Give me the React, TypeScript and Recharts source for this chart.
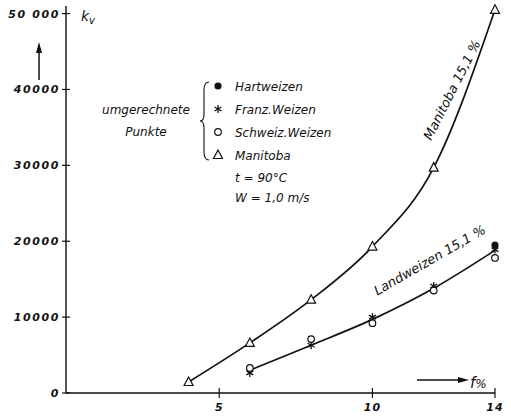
import React from "react";
import { ComposedChart, Line, XAxis, YAxis } from "recharts";

// moisture f in %, k_v values per series
const fValues = [4, 6, 8, 10, 12, 14];
const manitoba = [1450, 6600, 12300, 19300, 29700, 50500];
const landweizen = [null, 3000, 6300, 9700, 13800, 18800];
const franzWeizen = [null, 2650, 6300, 10000, 14100, 18900];
const schweizWeizen = [null, 3300, 7100, 9200, 13500, 17800];
const hartweizen = [null, null, null, null, null, 19500];

const xTicks = [5, 10, 14];
const yTicks = [0, 10000, 20000, 30000, 40000, 50000];
const yTickLabels = ["0", "10000", "20000", "30000", "40000", "50 000"];

const rows = fValues.map((f, i) => ({
  f,
  manitoba: manitoba[i],
  landweizen: landweizen[i],
  franz: franzWeizen[i],
  schweiz: schweizWeizen[i],
  hart: hartweizen[i],
}));

const INK = "#111";
const FONT = "DejaVu Sans";

function TriangleMark({ cx, cy }: any) {
  if (cx == null || cy == null) return <g />;
  return (
    <polygon
      points={`${cx},${cy - 5} ${cx - 4.5},${cy + 3.5} ${cx + 4.5},${cy + 3.5}`}
      fill="#fff"
      stroke={INK}
      strokeWidth={1.2}
    />
  );
}

function RingMark({ cx, cy }: any) {
  if (cx == null || cy == null) return <g />;
  return <circle cx={cx} cy={cy} r={3.3} fill="#fff" stroke={INK} strokeWidth={1.2} />;
}

function DotMark({ cx, cy }: any) {
  if (cx == null || cy == null) return <g />;
  return <circle cx={cx} cy={cy} r={3.6} fill={INK} />;
}

function StarMark({ cx, cy }: any) {
  if (cx == null || cy == null) return <g />;
  const r = 4;
  return (
    <g stroke={INK} strokeWidth={1.3}>
      <line x1={cx} y1={cy - r} x2={cx} y2={cy + r} />
      <line x1={cx - r * 0.87} y1={cy - r / 2} x2={cx + r * 0.87} y2={cy + r / 2} />
      <line x1={cx - r * 0.87} y1={cy + r / 2} x2={cx + r * 0.87} y2={cy - r / 2} />
    </g>
  );
}

function YTick({ x, y, payload, index }: any) {
  return (
    <g>
      <line x1={x - 4} y1={y} x2={x + 4} y2={y} stroke={INK} strokeWidth={1.2} />
      <text
        x={x - 6}
        y={y + 4}
        textAnchor="end"
        fontSize={11}
        fontStyle="italic"
        fontWeight="bold"
        letterSpacing={1.6}
        fill={INK}
        fontFamily={FONT}
      >
        {yTickLabels[index] ?? payload.value}
      </text>
    </g>
  );
}

function XTick({ x, y, payload }: any) {
  return (
    <g>
      <line x1={x} y1={y - 5} x2={x} y2={y + 5} stroke={INK} strokeWidth={1.2} />
      <text
        x={x}
        y={y + 18}
        textAnchor="middle"
        fontSize={11}
        fontStyle="italic"
        fontWeight="bold"
        letterSpacing={1}
        fill={INK}
        fontFamily={FONT}
      >
        {payload.value}
      </text>
    </g>
  );
}

const legendItems = [
  { label: "Hartweizen", Mark: DotMark, y: 86 },
  { label: "Franz.Weizen", Mark: StarMark, y: 109 },
  { label: "Schweiz.Weizen", Mark: RingMark, y: 132 },
  { label: "Manitoba", Mark: TriangleMark, y: 155 },
];

function Annotations() {
  const t = { fontFamily: FONT, fontStyle: "italic" as const, fill: INK };
  return (
    <svg
      width={511}
      height={417}
      style={{ position: "absolute", left: 0, top: 0, pointerEvents: "none" }}
    >
      {/* k_v axis caption and upward arrow */}
      <text x={81} y={21} fontSize={14} {...t}>
        k<tspan dy={3} fontSize={10}>v</tspan>
      </text>
      <line x1={39} y1={80} x2={39} y2={50} stroke={INK} strokeWidth={1.5} />
      <polygon points="39,42 36,53 42,53" fill={INK} />

      {/* f% arrow */}
      <line x1={417} y1={380} x2={460} y2={380} stroke={INK} strokeWidth={1.5} />
      <polygon points="469,380 458,377 458,383" fill={INK} />
      <text x={470} y={388} fontSize={15} {...t}>
        f<tspan fontSize={12}>%</tspan>
      </text>

      {/* legend */}
      <text x={146} y={114} fontSize={12} textAnchor="middle" {...t}>
        umgerechnete
      </text>
      <text x={146} y={136} fontSize={12} textAnchor="middle" {...t}>
        Punkte
      </text>
      <path
        d="M209,82 Q204,82 204,90 L204,114 Q204,121 200,121 Q204,121 204,128 L204,152 Q204,160 209,160"
        fill="none"
        stroke={INK}
        strokeWidth={1.1}
      />
      {legendItems.map(({ label, Mark, y }) => (
        <g key={label}>
          <Mark cx={218} cy={y} />
          <text x={235} y={y + 5} fontSize={12} {...t}>
            {label}
          </text>
        </g>
      ))}
      <text x={235} y={182} fontSize={12} {...t}>
        t = 90°C
      </text>
      <text x={235} y={202} fontSize={12} {...t}>
        W = 1,0 m/s
      </text>

      {/* curve labels */}
      <text
        x={456}
        y={92}
        fontSize={13}
        textAnchor="middle"
        transform="rotate(-63 456 92)"
        {...t}
      >
        Manitoba 15,1 %
      </text>
      <text
        x={432}
        y={264}
        fontSize={13}
        textAnchor="middle"
        transform="rotate(-30 432 264)"
        {...t}
      >
        Landweizen 15,1 %
      </text>
    </svg>
  );
}

export default function App() {
  return (
    <div
      style={{
        position: "absolute",
        left: 0,
        top: 0,
        width: 511,
        height: 417,
        background: "#fff",
        fontFamily: FONT,
      }}
    >
      <ComposedChart
        width={511}
        height={417}
        data={rows}
        margin={{ top: 6, right: 16, left: 0, bottom: 0 }}
      >
        <XAxis
          dataKey="f"
          type="number"
          domain={[0, 14]}
          ticks={xTicks}
          height={24}
          tickSize={0}
          tickMargin={0}
          tickLine={false}
          tick={<XTick />}
          axisLine={{ stroke: INK, strokeWidth: 1.4 }}
          interval={0}
        />
        <YAxis
          type="number"
          domain={[0, 51000]}
          ticks={yTicks}
          width={66}
          tickSize={0}
          tickMargin={0}
          tickLine={false}
          tick={<YTick />}
          axisLine={{ stroke: INK, strokeWidth: 1.4 }}
          interval={0}
        />
        <Line
          dataKey="manitoba"
          type="monotone"
          stroke={INK}
          strokeWidth={1.7}
          dot={<TriangleMark />}
          activeDot={false}
          isAnimationActive={false}
        />
        <Line
          dataKey="landweizen"
          type="monotone"
          stroke={INK}
          strokeWidth={1.7}
          dot={false}
          activeDot={false}
          isAnimationActive={false}
        />
        <Line
          dataKey="franz"
          stroke="none"
          dot={<StarMark />}
          activeDot={false}
          isAnimationActive={false}
        />
        <Line
          dataKey="schweiz"
          stroke="none"
          dot={<RingMark />}
          activeDot={false}
          isAnimationActive={false}
        />
        <Line
          dataKey="hart"
          stroke="none"
          dot={<DotMark />}
          activeDot={false}
          isAnimationActive={false}
        />
      </ComposedChart>
      <Annotations />
    </div>
  );
}
